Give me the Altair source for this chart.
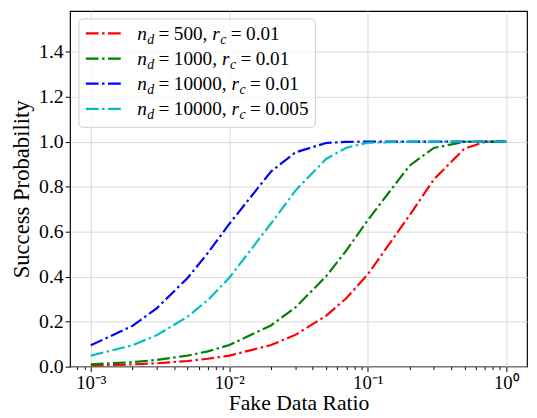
import altair as alt
import pandas as pd
import math

# ---- data ----
x_vals = [0.001, 0.002, 0.003, 0.005, 0.007, 0.01, 0.02, 0.03, 0.05, 0.07,
          0.1, 0.2, 0.3, 0.5, 0.7, 1.0]
p_nd500_rc001 = [0.005, 0.010, 0.015, 0.025, 0.035, 0.049, 0.096, 0.141, 0.226, 0.304,
                 0.410, 0.672, 0.832, 0.969, 0.998, 1.000]
p_nd1000_rc001 = [0.010, 0.020, 0.030, 0.049, 0.068, 0.096, 0.183, 0.263, 0.401, 0.516,
                  0.651, 0.893, 0.972, 0.999, 1.000, 1.000]
p_nd10000_rc001 = [0.095, 0.181, 0.260, 0.394, 0.505, 0.634, 0.867, 0.952, 0.994, 0.999,
                   1.000, 1.000, 1.000, 1.000, 1.000, 1.000]
p_nd10000_rc0005 = [0.049, 0.095, 0.140, 0.222, 0.296, 0.395, 0.636, 0.782, 0.923, 0.973,
                    0.995, 1.000, 1.000, 1.000, 1.000, 1.000]

series_keys = ["nd500_rc0.01", "nd1000_rc0.01", "nd10000_rc0.01", "nd10000_rc0.005"]
series_values = [p_nd500_rc001, p_nd1000_rc001, p_nd10000_rc001, p_nd10000_rc0005]
series_colors = ["#ff0000", "#008000", "#0000ff", "#00bfbf"]
legend_nd = ["500", "1000", "10000", "10000"]
legend_rc = ["0.01", "0.01", "0.01", "0.005"]

x_major_ticks = [0.001, 0.01, 0.1, 1.0]
x_major_labels = ["10⁻³", "10⁻²", "10⁻¹", "10⁰"]
y_ticks = [0.0, 0.2, 0.4, 0.6, 0.8, 1.0, 1.2, 1.4]

x_title = "Fake Data Ratio"
y_title = "Success Probability"

# ---- build table ----
rows = []
for key, vals in zip(series_keys, series_values):
    for xv, pv in zip(x_vals, vals):
        rows.append({"x": xv, "p": pv, "series": key})
df = pd.DataFrame(rows)

W, H = 464, 361
FONT = "Liberation Serif"
DASH = [13, 3.5, 2.5, 3.5]

minor_ticks = [m * 10.0 ** e for e in (-4, -3, -2, -1) for m in range(2, 10)]
minor_ticks = [v for v in minor_ticks if v > 10 ** -3.15]
x_tick_values = sorted(x_major_ticks + minor_ticks)

exp_expr = "round(log(datum.value)/LN10)"
is_major = f"abs(log(datum.value)/LN10 - {exp_expr}) < 0.001"
lab = "''"
for v, l in zip(reversed(x_major_ticks), reversed(x_major_labels)):
    e = round(math.log10(v))
    lab = f"({exp_expr} == {e} ? '{l}' : {lab})"
label_expr = f"{is_major} ? {lab} : ''"

x_axis = alt.Axis(
    values=x_tick_values,
    labelExpr=label_expr,
    labelOverlap=False,
    labelFlush=False,
    tickSize={"condition": {"test": is_major, "value": 5}, "value": 3},
    gridOpacity={"condition": {"test": is_major, "value": 1}, "value": 0},
    labelFontSize=19,
    labelPadding=2,
    titleFontSize=22,
    titlePadding=1,
)
y_axis = alt.Axis(
    values=y_ticks,
    format=".1f",
    tickSize=5,
    labelFontSize=20,
    labelPadding=2,
    titleFontSize=23,
    titlePadding=5,
)

lines = alt.Chart(df).mark_line(strokeWidth=2.2, strokeDash=DASH).encode(
    x=alt.X("x:Q", title=x_title,
            scale=alt.Scale(type="log", domain=[10 ** -3.15, 10 ** 0.15], nice=False),
            axis=x_axis),
    y=alt.Y("p:Q", title=y_title,
            scale=alt.Scale(domain=[0, 1.58], nice=False, zero=False),
            axis=y_axis),
    color=alt.Color("series:N", scale=alt.Scale(domain=series_keys, range=series_colors),
                    legend=None),
    detail="series:N",
)

# ---- custom legend (mathtext-like labels) ----
one = pd.DataFrame({"k": [0]})
layers = [lines]
layers.append(
    alt.Chart(one).mark_rect(fill="white", fillOpacity=0.8, stroke="#cccccc",
                             strokeWidth=1, cornerRadius=4).encode(
        x=alt.value(9), x2=alt.value(249), y=alt.value(8), y2=alt.value(118))
)

FS = 19.5
SUB = 14
cw = {"digit": 0.5, ".": 0.25, ",": 0.25, "=": 0.564, "n": 0.5, "d": 0.5, "r": 0.389, "c": 0.444}


def wnum(s, size):
    return sum((cw["digit"] if ch.isdigit() else cw[ch]) * size for ch in s)


def txt(text, x, y, size, italic):
    return alt.Chart(one).mark_text(
        text=text, align="left", baseline="alphabetic", font=FONT, fontSize=size,
        fontStyle="italic" if italic else "normal", color="black").encode(
        x=alt.value(x), y=alt.value(y))


for i in range(len(series_keys)):
    cy = 22.7 + 25.5 * i
    base = cy + 6.5
    layers.append(
        alt.Chart(one).mark_rule(color=series_colors[i], strokeWidth=2.2, strokeDash=DASH).encode(
            x=alt.value(16), x2=alt.value(54), y=alt.value(cy))
    )
    x = 68.3
    layers.append(txt("n", x, base, FS, True)); x += cw["n"] * FS + 0.3
    layers.append(txt("d", x, base + 4, SUB, True)); x += cw["d"] * SUB + 4.5
    layers.append(txt("=", x, base, FS, False)); x += cw["="] * FS + 4.5
    s = legend_nd[i] + ","
    layers.append(txt(s, x, base, FS, False)); x += wnum(s, FS) + 5
    layers.append(txt("r", x, base, FS, True)); x += cw["r"] * FS + 0.5
    layers.append(txt("c", x, base + 4, SUB, True)); x += cw["c"] * SUB + 4.5
    layers.append(txt("=", x, base, FS, False)); x += cw["="] * FS + 4.5
    layers.append(txt(legend_rc[i], x, base, FS, False))

chart = alt.layer(*layers).properties(
    width=W, height=H,
    padding={"left": 63, "top": 0, "right": 2, "bottom": 48},
    autosize=alt.AutoSizeParams(type="none"),
).configure_view(
    stroke="black", strokeWidth=1.2
).configure_axis(
    labelFont=FONT, titleFont=FONT, titleFontWeight="normal",
    labelColor="black", titleColor="black", tickColor="black", tickWidth=1,
    domain=False, gridColor="#d9d9d9", gridWidth=1,
)

chart.save("out.html", embed_options={"renderer": "svg", "actions": False})
